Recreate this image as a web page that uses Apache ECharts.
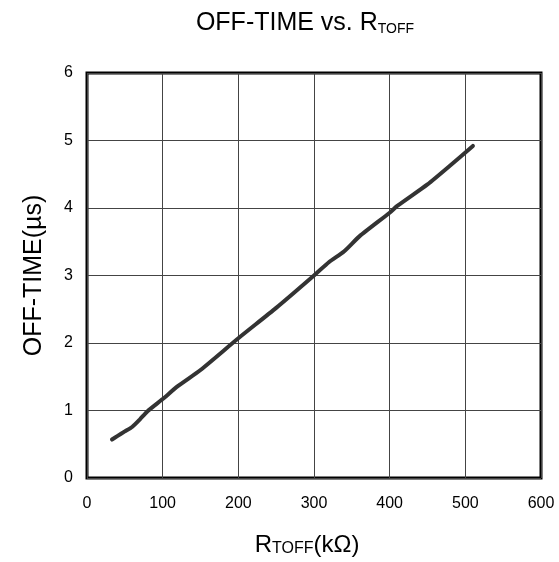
<!DOCTYPE html>
<html>
<head>
<meta charset="utf-8">
<script src="https://cdn.jsdelivr.net/npm/echarts@6/dist/echarts.min.js"></script>
<style>
html,body{margin:0;padding:0;background:#fff;}
#chart{width:559px;height:562px;}
</style>
</head>
<body>
<div id="chart"></div>
<script>
var rToff = [33, 40, 50, 60, 70, 80, 100, 120, 150, 200, 250, 300, 320, 340, 360, 400, 410, 450, 480, 510];
var offTime = [0.57, 0.62, 0.69, 0.76, 0.87, 0.99, 1.17, 1.36, 1.6, 2.07, 2.52, 3.0, 3.2, 3.36, 3.58, 3.93, 4.03, 4.35, 4.63, 4.92];
var xTicks = [0, 100, 200, 300, 400, 500, 600];
var yTicks = [0, 1, 2, 3, 4, 5, 6];

var chart = echarts.init(document.getElementById('chart'));
var font = 'Liberation Sans, Arial, sans-serif';
var data = rToff.map(function (x, i) { return [x, offTime[i]]; });

chart.setOption({
  animation: false,
  backgroundColor: '#fff',
  title: {
    text: '{a|OFF-TIME vs. R}{b|TOFF}',
    left: 300,
    textAlign: 'center',
    top: 3,
    textStyle: {
      fontWeight: 'normal',
      rich: {
        a: { fontSize: 25, fontFamily: font, fontWeight: 'normal', color: '#000', verticalAlign: 'bottom', lineHeight: 28 },
        b: { fontSize: 14, fontFamily: font, fontWeight: 'normal', color: '#000', verticalAlign: 'bottom', lineHeight: 24 }
      }
    }
  },
  grid: {
    left: 87, right: 18, top: 73, bottom: 84,
    show: true, borderColor: '#000', borderWidth: 3, backgroundColor: 'transparent'
  },
  xAxis: {
    type: 'value', min: xTicks[0], max: xTicks[xTicks.length - 1], interval: 100,
    axisLine: { show: false }, axisTick: { show: false },
    splitLine: { show: true, lineStyle: { color: '#444', width: 1 } },
    axisLabel: { fontSize: 16, fontFamily: font, color: '#000', margin: 18 },
    name: '{a|R}{b|TOFF}{a|(kΩ)}',
    nameLocation: 'middle', nameGap: 51,
    nameTextStyle: {
      padding: [0, 14, 0, 0],
      rich: {
        a: { fontSize: 24, fontFamily: font, color: '#000', verticalAlign: 'bottom', lineHeight: 28 },
        b: { fontSize: 16, fontFamily: font, color: '#000', verticalAlign: 'bottom', lineHeight: 25 }
      }
    }
  },
  yAxis: {
    type: 'value', min: yTicks[0], max: yTicks[yTicks.length - 1], interval: 1,
    axisLine: { show: false }, axisTick: { show: false },
    splitLine: { show: true, lineStyle: { color: '#444', width: 1 } },
    axisLabel: { fontSize: 16, fontFamily: font, color: '#000', margin: 14 },
    name: 'OFF-TIME(µs)',
    nameLocation: 'middle', nameGap: 40, nameRotate: 90,
    nameTextStyle: { fontSize: 25, fontFamily: font, color: '#000' }
  },
  series: [{
    type: 'line',
    data: data,
    showSymbol: false,
    smooth: 0.2,
    lineStyle: { color: '#333', width: 4, cap: 'round', join: 'round' }
  }]
});
</script>
</body>
</html>
